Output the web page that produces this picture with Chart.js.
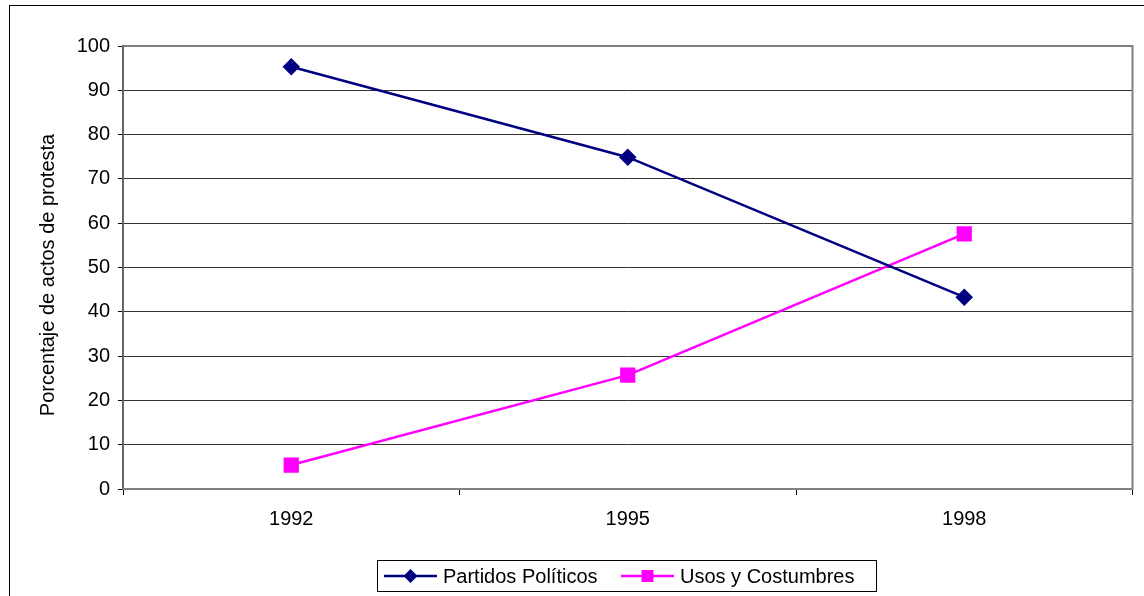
<!DOCTYPE html>
<html>
<head>
<meta charset="utf-8">
<script src="https://cdn.jsdelivr.net/npm/chart.js@4.4.0/dist/chart.umd.min.js"></script>
<style>
  html, body { margin: 0; padding: 0; background: #fff; }
  #wrap { width: 1144px; height: 596px; }
</style>
</head>
<body>
<div id="wrap"><canvas id="grafica" width="1144" height="596"></canvas></div>
<script>
// Datos
const anios = ['1992', '1995', '1998'];
const partidosPoliticos = [95.3, 74.9, 43.3];
const usosCostumbres = [5.4, 25.7, 57.6];
const tituloY = 'Porcentaje de actos de protesta';

const fuente = '"Liberation Sans", Arial, sans-serif';

// Marco exterior, título del eje Y y borde del área de trazado
const marcoPlugin = {
    id: 'marco',
    beforeDraw(chart) {
        const ctx = chart.ctx;
        ctx.save();
        ctx.strokeStyle = '#000';
        ctx.lineWidth = 1;
        ctx.strokeRect(9.5, 5.5, 1200, 700);
        // título vertical, un poco más abajo que el centro del eje
        ctx.translate(48, 275);
        ctx.rotate(-Math.PI / 2);
        ctx.fillStyle = '#000';
        ctx.font = '20px ' + fuente;
        ctx.textAlign = 'center';
        ctx.textBaseline = 'middle';
        ctx.fillText(tituloY, 0, 0);
        ctx.restore();
    },
    afterDatasetsDraw(chart) {
        const a = chart.chartArea;
        const ctx = chart.ctx;
        ctx.save();
        ctx.strokeStyle = '#808080';
        ctx.lineWidth = 2;
        ctx.beginPath();
        ctx.moveTo(a.left, a.top);
        ctx.lineTo(a.right, a.top);
        ctx.lineTo(a.right, a.bottom);
        ctx.lineTo(a.left, a.bottom);
        ctx.stroke();
        ctx.restore();
    }
};

// Leyenda al estilo de Excel (línea con marcador)
const leyendaPlugin = {
    id: 'leyenda',
    afterDraw(chart) {
        const ctx = chart.ctx;
        const x0 = 377, y0 = 560, w = 499, h = 31;
        ctx.save();
        ctx.strokeStyle = '#000';
        ctx.lineWidth = 1;
        ctx.strokeRect(x0 + 0.5, y0 + 0.5, w, h);
        const items = [
            { x: 384, tx: 443 },
            { x: 621, tx: 680 }
        ];
        const cy = y0 + h / 2 + 0.5;
        chart.data.datasets.forEach((ds, i) => {
            const it = items[i];
            ctx.strokeStyle = ds.borderColor;
            ctx.lineWidth = 2.5;
            ctx.beginPath();
            ctx.moveTo(it.x, cy);
            ctx.lineTo(it.x + 53, cy);
            ctx.stroke();
            ctx.fillStyle = ds.pointBackgroundColor;
            const mx = it.x + 26.5;
            if (ds.pointStyle === 'rectRot') {
                ctx.beginPath();
                ctx.moveTo(mx, cy - 7);
                ctx.lineTo(mx + 7, cy);
                ctx.lineTo(mx, cy + 7);
                ctx.lineTo(mx - 7, cy);
                ctx.closePath();
                ctx.fill();
            } else {
                ctx.fillRect(mx - 6, cy - 6, 12, 12);
            }
            ctx.fillStyle = '#000';
            ctx.font = '20px ' + fuente;
            ctx.textBaseline = 'middle';
            ctx.textAlign = 'left';
            ctx.fillText(ds.label, it.tx, cy + 1);
        });
        ctx.restore();
    }
};

new Chart(document.getElementById('grafica'), {
    type: 'line',
    data: {
        labels: anios,
        datasets: [
            {
                label: 'Partidos Políticos',
                data: partidosPoliticos,
                borderColor: '#000080',
                backgroundColor: '#000080',
                pointBackgroundColor: '#000080',
                pointBorderColor: '#000080',
                pointStyle: 'rectRot',
                pointRadius: 7,
                pointHoverRadius: 7,
                borderWidth: 2.5,
                tension: 0
            },
            {
                label: 'Usos y Costumbres',
                data: usosCostumbres,
                borderColor: '#FF00FF',
                backgroundColor: '#FF00FF',
                pointBackgroundColor: '#FF00FF',
                pointBorderColor: '#FF00FF',
                pointStyle: 'rect',
                pointRadius: 9,
                pointHoverRadius: 9,
                borderWidth: 2.5,
                tension: 0
            }
        ]
    },
    options: {
        responsive: false,
        animation: false,
        layout: {
            padding: { top: 46, right: 11, left: 0, bottom: 0 }
        },
        plugins: {
            legend: { display: false },
            tooltip: { enabled: false }
        },
        scales: {
            x: {
                offset: true,
                grid: {
                    offset: true,
                    drawOnChartArea: false,
                    color: '#000',
                    tickLength: 6
                },
                border: { display: false },
                ticks: {
                    color: '#000',
                    font: { family: fuente, size: 20 },
                    padding: 12,
                    maxRotation: 0
                },
                afterFit(scale) { scale.height = 107; }
            },
            y: {
                min: 0,
                max: 100,
                ticks: {
                    stepSize: 10,
                    color: '#000',
                    font: { family: fuente, size: 20 },
                    padding: 8
                },
                grid: {
                    color: '#333',
                    lineWidth: 1,
                    tickLength: 5,
                    tickColor: '#000'
                },
                border: { color: '#666', width: 2 },
                afterFit(scale) { scale.width = 123; }
            }
        }
    },
    plugins: [marcoPlugin, leyendaPlugin]
});
</script>
</body>
</html>
